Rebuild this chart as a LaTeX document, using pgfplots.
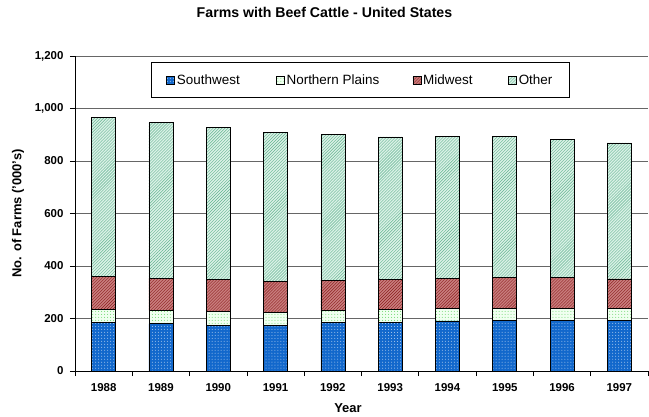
\documentclass[border=0pt]{standalone}
\usepackage{fontspec}
\setmainfont{Liberation Sans}
\usepackage{pgfplots}
\pgfplotsset{compat=1.18}
\usetikzlibrary{patterns}
\definecolor{swblue}{RGB}{18,104,204}
\definecolor{npfill}{RGB}{240,255,240}
\definecolor{npdot}{RGB}{110,215,110}
\definecolor{mwfill}{RGB}{200,125,125}
\definecolor{mwline}{RGB}{140,30,30}
\definecolor{otfill}{RGB}{218,241,230}
\definecolor{otline}{RGB}{100,180,145}
\begin{document}
\begin{tikzpicture}[x=1bp,y=1bp]
\begin{axis}[
  at={(0,0)}, anchor=south west,
  scale only axis, width=573bp, height=315bp,
  ybar stacked, bar width=24bp,
  xmin=-0.5, xmax=9.5, ymin=0, ymax=1200,
  ytick={0,200,...,1200},
  xtick={-0.5,0.5,...,9.5}, xticklabels={},
  extra x ticks={0,1,2,3,4,5,6,7,8,9},
  extra x tick labels={1988,1989,1990,1991,1992,1993,1994,1995,1996,1997},
  extra x tick style={major tick length=0pt, grid=none},
  ymajorgrids, grid style={black!60, line width=0.8bp},
  axis x line*=bottom, axis y line*=left,
  axis line style={black, line width=0.8bp},
  tick align=outside, major tick length=5bp,
  tick style={black, line width=0.8bp},
  /pgf/number format/assume math mode=true,
  /pgf/number format/1000 sep={,},
  yticklabel style={font=\fontsize{11.5}{13}\selectfont\bfseries, xshift=-3bp},
  xticklabel style={font=\fontsize{11.5}{13}\selectfont\bfseries, yshift=-9bp},
  ylabel={No. of Farms ('000's)},
  ylabel style={at={(axis description cs:-0.0995,0.5)}, anchor=center, rotate=0, font=\fontsize{13}{15}\selectfont\bfseries},
  xlabel={Year},
  xlabel style={at={(axis description cs:0.4764,-0.1175)}, anchor=center, font=\fontsize{13}{15}\selectfont\bfseries},
  title={Farms with Beef Cattle - United States},
  title style={at={(axis description cs:0.4354,1.1206)}, anchor=center, font=\fontsize{14.2}{17}\selectfont\bfseries},
  legend columns=4,
  legend style={at={(axis description cs:0.1326,0.981)}, anchor=north west, draw=black, line width=0.8bp,
    inner xsep=15bp, inner ysep=10bp, font=\fontsize{13.5}{15}\selectfont,
    nodes={inner xsep=2bp, inner ysep=2bp}, column sep=0pt},
  legend cell align=left,
  legend image code/.code={\draw[#1, line width=0.6bp] (0bp,-4bp) rectangle (8bp,4bp);},
  every axis plot/.append style={draw=black, line width=0.7bp},
]
\addplot[fill=swblue, postaction={pattern=dots, pattern color=white!70!swblue}] coordinates {(0,184) (1,180) (2,175) (3,174) (4,184) (5,186) (6,191) (7,192) (8,192) (9,193)};
\addlegendentry{\makebox[97bp][l]{Southwest}}
\addplot[fill=npfill, postaction={pattern=dots, pattern color=npdot}] coordinates {(0,50) (1,50) (2,51) (3,50) (4,46) (5,48) (6,47) (7,47) (8,47) (9,46)};
\addlegendentry{\makebox[124bp][l]{Northern Plains}}
\addplot[fill=mwfill, postaction={pattern=north east lines, pattern color=mwline}] coordinates {(0,127) (1,123) (2,122) (3,118) (4,116) (5,115) (6,115) (7,117) (8,118) (9,112)};
\addlegendentry{\makebox[83bp][l]{Midwest}}
\addplot[fill=otfill, postaction={pattern=north east lines, pattern color=otline}] coordinates {(0,605) (1,593) (2,579) (3,567) (4,554) (5,543) (6,542) (7,539) (8,526) (9,518)};
\addlegendentry{Other}
\end{axis}
\pgfresetboundingbox
\path (-75,-45) rectangle (574,371);
\end{tikzpicture}
\end{document}
